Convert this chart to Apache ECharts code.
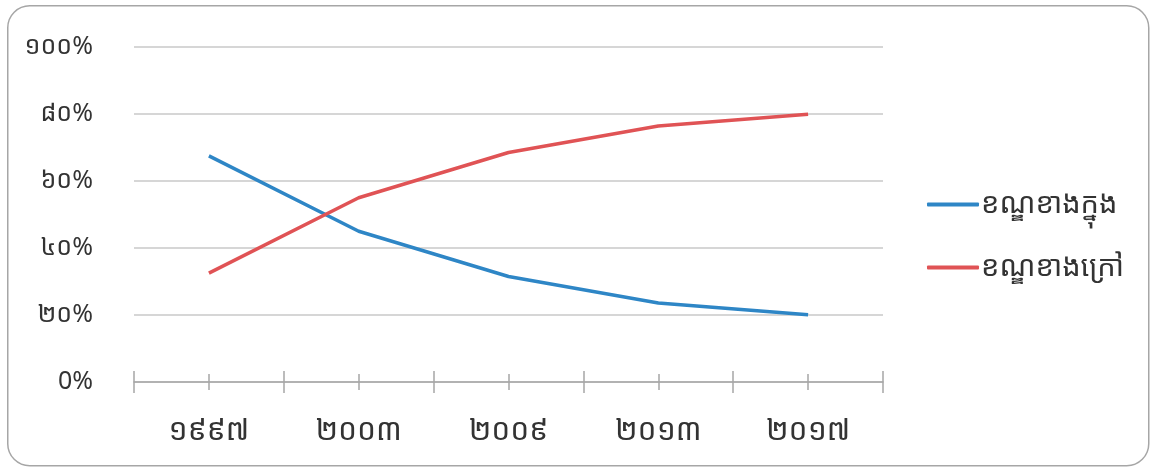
<!DOCTYPE html>
<html>
<head>
<meta charset="utf-8">
<script src="https://cdn.jsdelivr.net/npm/echarts@6/dist/echarts.min.js"></script>
<style>
html,body{margin:0;padding:0;background:#fff;}
#c{width:1152px;height:469px;}
</style>
</head>
<body>
<div id="c"></div>
<script>
const categories = ['១៩៩៧', '២០០៣', '២០០៩', '២០១៣', '២០១៧'];
const innerName = 'ខណ្ឌខាងក្នុង';
const outerName = 'ខណ្ឌខាងក្រៅ';
const innerValues = [67.5, 45.0, 31.5, 23.6, 20.1];
const outerValues = [32.5, 55.0, 68.5, 76.4, 79.9];
const yTickLabels = {0: '0%', 20: '២០%', 40: '៤០%', 60: '៦០%', 80: '៨០%', 100: '១០០%'};

const FONT = '"Noto Sans Khmer", "Khmer OS", "Noto Sans", "DejaVu Sans", sans-serif';
const chart = echarts.init(document.getElementById('c'), null, {renderer: 'canvas'});
const baseX = {
  type: 'category', data: categories, boundaryGap: true, position: 'bottom', gridIndex: 0
};
chart.setOption({
  animation: false,
  textStyle: {fontFamily: FONT},
  graphic: [{
    type: 'rect', left: 7, top: 5, z: -10,
    shape: {width: 1141, height: 460, r: 22},
    style: {fill: '#fff', stroke: '#a6a6a6', lineWidth: 1.5}
  }],
  grid: {left: 134, right: 269, top: 47, bottom: 87, containLabel: false},
  legend: {
    orient: 'vertical', left: 922, top: 185, itemGap: 34,
    itemWidth: 52, itemHeight: 4, icon: 'roundRect',
    textStyle: {fontSize: 29, color: '#333', fontFamily: FONT, padding: [0,0,0,-3]},
    data: [innerName, outerName]
  },
  xAxis: [
    Object.assign({}, baseX, {
      axisLine: {show: true, lineStyle: {color: '#a6a6a6', width: 1.5}},
      axisTick: {show: true, alignWithLabel: true, inside: false, length: 8, lineStyle: {color: '#a6a6a6', width: 1.5}},
      axisLabel: {margin: 34, fontSize: 30, color: '#333', fontFamily: FONT},
      splitLine: {show: false}
    }),
    Object.assign({}, baseX, {
      offset: 8,
      axisLine: {show: false},
      axisTick: {show: true, alignWithLabel: true, inside: true, length: 16, lineStyle: {color: '#a6a6a6', width: 1.5}},
      axisLabel: {show: false}, splitLine: {show: false}
    }),
    Object.assign({}, baseX, {
      offset: 11,
      axisLine: {show: false},
      axisTick: {show: true, alignWithLabel: false, inside: true, length: 22, lineStyle: {color: '#a6a6a6', width: 1.5}},
      axisLabel: {show: false}, splitLine: {show: false}
    })
  ],
  yAxis: {
    type: 'value', min: 0, max: 100, interval: 20,
    axisLine: {show: false}, axisTick: {show: false},
    axisLabel: {
      margin: 41, fontSize: 25, color: '#333', fontFamily: FONT,
      formatter: v => yTickLabels[v]
    },
    splitLine: {show: true, lineStyle: {color: '#c8c8c8', width: 1.5}}
  },
  series: [
    {
      name: innerName, type: 'line', xAxisIndex: 0, data: innerValues,
      showSymbol: false, symbol: 'none',
      lineStyle: {color: '#2e86c6', width: 3.5}, itemStyle: {color: '#2e86c6'}
    },
    {
      name: outerName, type: 'line', xAxisIndex: 0, data: outerValues,
      showSymbol: false, symbol: 'none',
      lineStyle: {color: '#e05355', width: 3.5}, itemStyle: {color: '#e05355'}
    }
  ]
});
</script>
</body>
</html>
